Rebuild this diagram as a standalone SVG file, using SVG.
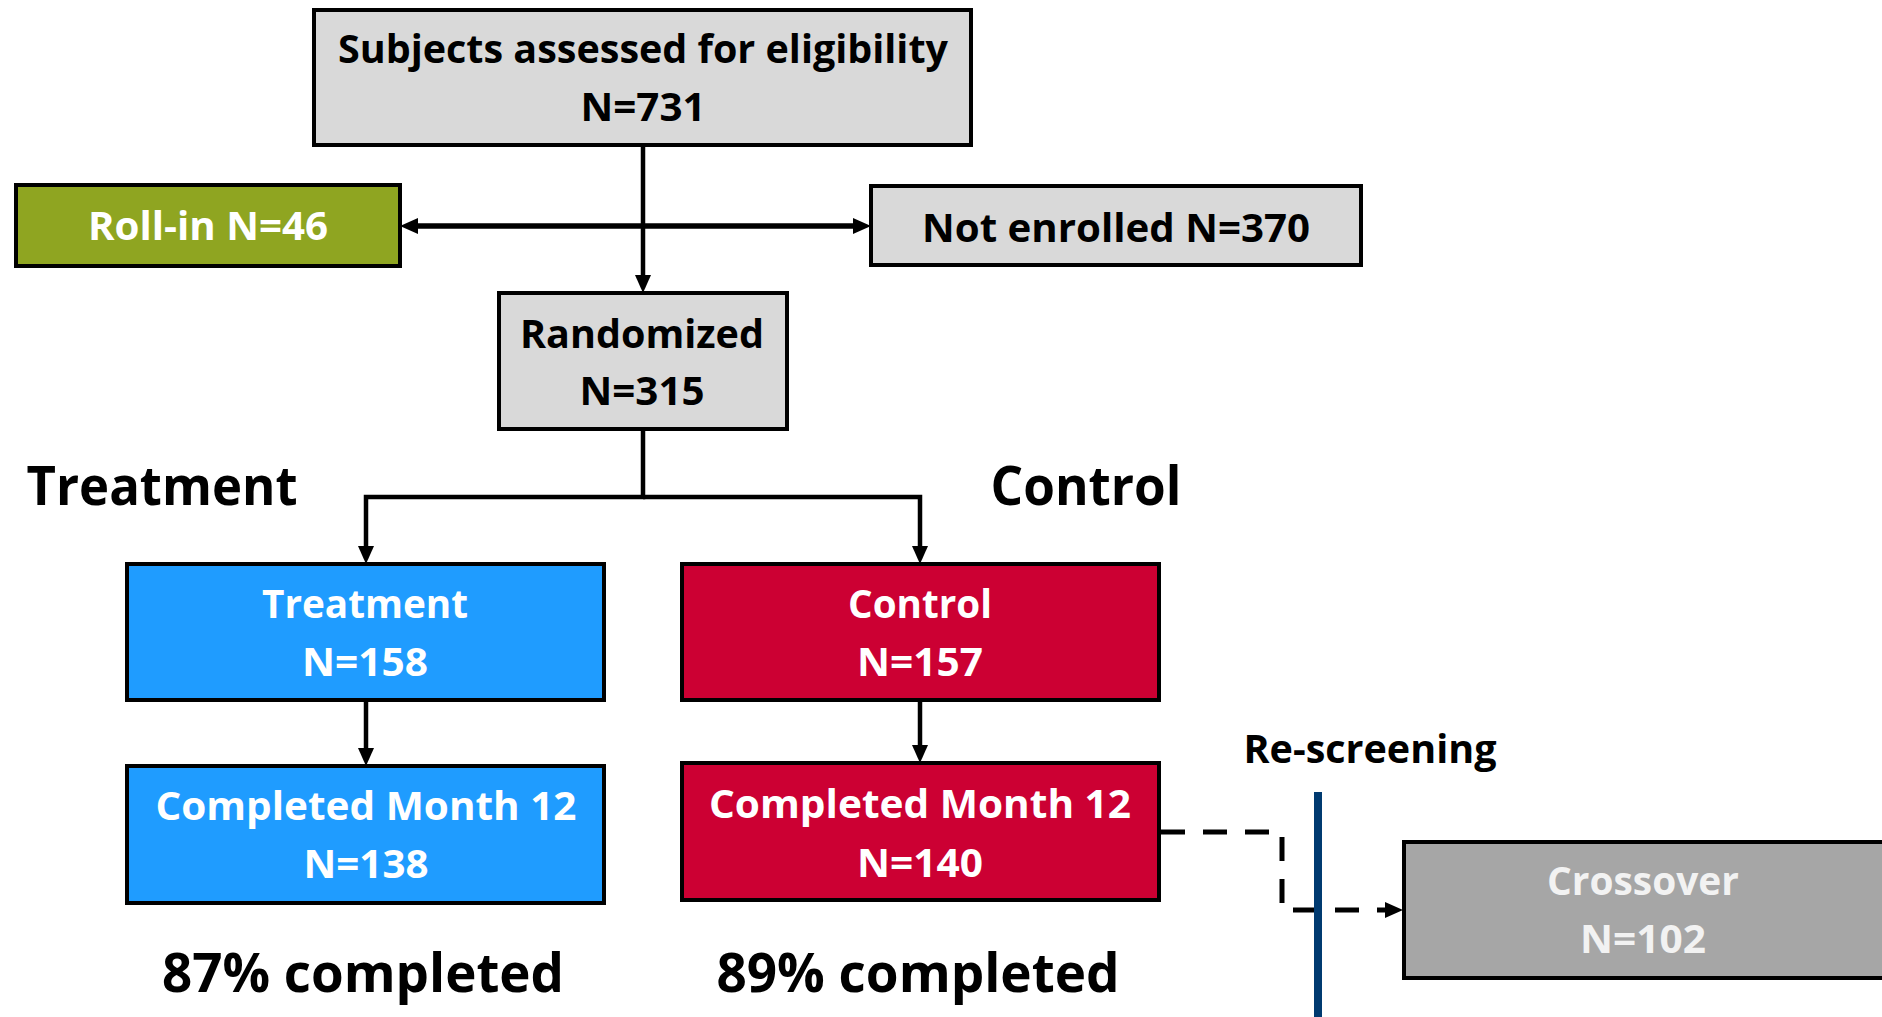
<svg xmlns="http://www.w3.org/2000/svg" width="1882" height="1017" viewBox="0 0 1882 1017">
<defs>
<marker id="ah" markerUnits="userSpaceOnUse" markerWidth="20" markerHeight="16" refX="11" refY="8" orient="auto-start-reverse">
<path d="M0,0 L18,8 L0,16 z" fill="#000"/>
</marker>
<style>
.box{stroke:#000;stroke-width:4}
.gray{fill:#D9D9D9}
.olive{fill:#8FA521}
.blue{fill:#1F9CFF}
.red{fill:#CC0033}
.cross{fill:#A6A6A6}
text{font-family:"Open Sans","Liberation Sans",sans-serif;font-weight:700;text-anchor:middle}
.t{font-size:40px}
.big{font-size:53px}
.dk{fill:#000}
.wt{fill:#FFFFFF}
.lt{fill:#F2F2F2}
.ln{fill:none;stroke:#000;stroke-width:4.5}
.thick{stroke-width:5.5}
.dash{fill:none;stroke:#000;stroke-width:5;stroke-dasharray:24 18}
</style>
</defs>
<rect width="1882" height="1017" fill="#FFFFFF"/>
<g id="connectors">
<path class="ln" d="M643,145 V286" marker-end="url(#ah)"/>
<path class="ln thick" d="M407,226 H864" marker-start="url(#ah)" marker-end="url(#ah)"/>
<path class="ln" d="M643,429 V497 H366 V557" marker-end="url(#ah)"/>
<path class="ln" d="M643,497 H920 V557" marker-end="url(#ah)"/>
<path class="ln" d="M366,700 V759" marker-end="url(#ah)"/>
<path class="ln" d="M920,700 V756" marker-end="url(#ah)"/>
<path class="dash" d="M1161,832 H1282 V910 H1396" marker-end="url(#ah)"/>
<line x1="1318" y1="792" x2="1318" y2="1017" stroke="#003A70" stroke-width="8"/>
</g>
<g id="assessed">
<rect class="box gray" x="314" y="10" width="657" height="135"/>
<text class="t dk" x="643" y="63" textLength="610" lengthAdjust="spacingAndGlyphs">Subjects assessed for eligibility</text>
<text class="t dk" x="643" y="121" textLength="125" lengthAdjust="spacingAndGlyphs">N=731</text>
</g>
<g id="rollin">
<rect class="box olive" x="16" y="185" width="384" height="81"/>
<text class="t wt" x="208" y="240" textLength="240" lengthAdjust="spacingAndGlyphs">Roll-in N=46</text>
</g>
<g id="notenrolled">
<rect class="box gray" x="871" y="186" width="490" height="79"/>
<text class="t dk" x="1116" y="242" textLength="388" lengthAdjust="spacingAndGlyphs">Not enrolled N=370</text>
</g>
<g id="randomized">
<rect class="box gray" x="499" y="293" width="288" height="136"/>
<text class="t dk" x="642" y="348" textLength="244" lengthAdjust="spacingAndGlyphs">Randomized</text>
<text class="t dk" x="642" y="405" textLength="125" lengthAdjust="spacingAndGlyphs">N=315</text>
</g>
<g id="label-treatment">
<text class="big dk" x="162" y="505" textLength="271" lengthAdjust="spacingAndGlyphs">Treatment</text>
</g>
<g id="label-control">
<text class="big dk" x="1086" y="505" textLength="191" lengthAdjust="spacingAndGlyphs">Control</text>
</g>
<g id="treatment">
<rect class="box blue" x="127" y="564" width="477" height="136"/>
<text class="t wt" x="365" y="618" textLength="206" lengthAdjust="spacingAndGlyphs">Treatment</text>
<text class="t wt" x="365" y="676" textLength="126" lengthAdjust="spacingAndGlyphs">N=158</text>
</g>
<g id="control">
<rect class="box red" x="682" y="564" width="477" height="136"/>
<text class="t wt" x="920" y="618" textLength="144" lengthAdjust="spacingAndGlyphs">Control</text>
<text class="t wt" x="920" y="676" textLength="126" lengthAdjust="spacingAndGlyphs">N=157</text>
</g>
<g id="treatment-completed">
<rect class="box blue" x="127" y="766" width="477" height="137"/>
<text class="t wt" x="366" y="820" textLength="421" lengthAdjust="spacingAndGlyphs">Completed Month 12</text>
<text class="t wt" x="366" y="878" textLength="125" lengthAdjust="spacingAndGlyphs">N=138</text>
</g>
<g id="control-completed">
<rect class="box red" x="682" y="763" width="477" height="137"/>
<text class="t wt" x="920" y="818" textLength="422" lengthAdjust="spacingAndGlyphs">Completed Month 12</text>
<text class="t wt" x="920" y="877" textLength="126" lengthAdjust="spacingAndGlyphs">N=140</text>
</g>
<g id="pct-treatment">
<text class="big dk" x="363" y="992" textLength="402" lengthAdjust="spacingAndGlyphs">87% completed</text>
</g>
<g id="pct-control">
<text class="big dk" x="918" y="992" textLength="403" lengthAdjust="spacingAndGlyphs">89% completed</text>
</g>
<g id="rescreening">
<text class="t dk" x="1370" y="763" textLength="253" lengthAdjust="spacingAndGlyphs">Re-screening</text>
</g>
<g id="crossover">
<rect class="box cross" x="1404" y="842" width="482" height="136"/>
<text class="t lt" x="1643" y="895" textLength="192" lengthAdjust="spacingAndGlyphs">Crossover</text>
<text class="t lt" x="1643" y="953" textLength="126" lengthAdjust="spacingAndGlyphs">N=102</text>
</g>
</svg>
